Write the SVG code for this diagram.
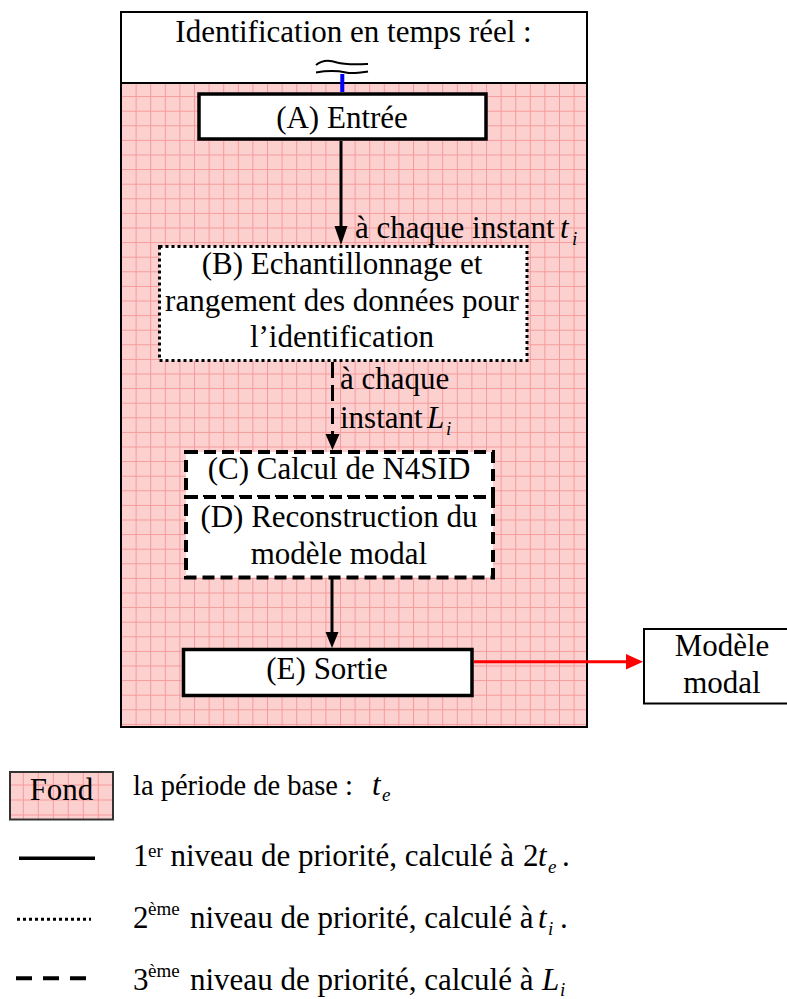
<svg xmlns="http://www.w3.org/2000/svg" width="787" height="999" viewBox="0 0 787 999">
<style>
  text { font-family: "Liberation Serif", "Times New Roman", serif; font-size: 31px; fill: #000; }
  .mid { text-anchor: middle; }
  .it { font-style: italic; }
  .sub { font-style: italic; font-size: 19px; }
  .sup { font-size: 19px; }
  .box { fill: #fff; stroke: #000; }
  .solid { stroke-width: 3.5; }
  .dotted { stroke-width: 3; stroke-dasharray: 3 3; }
  .dashed { stroke-width: 4; stroke-dasharray: 12 6; }
  .conn { fill: none; stroke: #000; stroke-width: 3; }
</style>
<defs>
  <pattern id="grid" patternUnits="userSpaceOnUse" x="121" y="81.5" width="14.6" height="14.6">
    <rect width="14.6" height="14.6" fill="#fdd0d0"/>
    <path d="M0,0.5 H14.6 M0.5,0 V14.6" stroke="#f59a9a" stroke-width="1"/>
  </pattern>
  <pattern id="grid2" patternUnits="userSpaceOnUse" x="7.8" y="769.5" width="15" height="15">
    <rect width="15" height="15" fill="#fdd0d0"/>
    <path d="M0,0.5 H15 M0.5,0 V15" stroke="#f59a9a" stroke-width="1"/>
  </pattern>
</defs>

<rect width="787" height="999" fill="#fff"/>

<g id="frame">
  <rect x="121" y="83" width="466" height="644" fill="url(#grid)"/>
  <rect x="121" y="12" width="466" height="71" fill="#fff"/>
  <rect x="121" y="12" width="466" height="715" fill="none" stroke="#000" stroke-width="2"/>
  <line x1="121" y1="83" x2="587" y2="83" stroke="#000" stroke-width="2"/>
  <text class="mid" x="353.5" y="42">Identification en temps réel :</text>
  <path d="M316,65 C322,60 330,60 337,62.5 C345,65 355,64.5 368,64" fill="none" stroke="#000" stroke-width="2"/>
  <path d="M316,72.5 C330,70 339,71 346,72.5 C352,74 358,73 368,71.5" fill="none" stroke="#000" stroke-width="2"/>
  <line x1="342.3" y1="74" x2="342.3" y2="92" stroke="#0000ff" stroke-width="4"/>
</g>

<g id="connectors">
  <line class="conn" x1="341" y1="141" x2="341" y2="228"/>
  <polygon points="334.5,226 347.5,226 341,245" fill="#000"/>
  <line class="conn" x1="332.5" y1="362" x2="332.5" y2="436" stroke-width="4" stroke-dasharray="16 7"/>
  <polygon points="325.5,434 339.5,434 332.5,450" fill="#000"/>
  <line class="conn" x1="332" y1="579" x2="332" y2="634"/>
  <polygon points="325.5,632 338.5,632 332,648" fill="#000"/>
  <line x1="474" y1="661.7" x2="628" y2="661.7" stroke="#ff0000" stroke-width="3"/>
  <polygon points="626,654 626,669.4 643,661.7" fill="#ff0000"/>
  <text x="355" y="238">à chaque instant</text>
  <text class="it" x="560" y="238">t</text>
  <text class="sub" x="572" y="245">i</text>
  <text x="340" y="389">à chaque</text>
  <text x="340" y="428">instant</text>
  <text class="it" x="427" y="428">L</text>
  <text class="sub" x="446" y="435">i</text>
</g>

<g id="nodeA">
  <rect class="box solid" x="199" y="94" width="287" height="45"/>
  <text class="mid" x="342" y="128">(A) Entrée</text>
</g>

<g id="nodeB">
  <rect class="box dotted" x="159.5" y="246.5" width="367.5" height="114"/>
  <text class="mid" x="342" y="274">(B) Echantillonnage et</text>
  <text class="mid" x="342" y="310.5">rangement des données pour</text>
  <text class="mid" x="342" y="347">l’identification</text>
</g>

<g id="nodeC">
  <rect class="box dashed" x="186" y="452" width="307" height="45"/>
  <text class="mid" x="339" y="479">(C) Calcul de N4SID</text>
</g>

<g id="nodeD">
  <rect class="box dashed" x="186" y="497" width="307" height="80.5" fill="none"/>
  <text class="mid" x="339" y="527">(D) Reconstruction du</text>
  <text class="mid" x="339" y="564">modèle modal</text>
</g>

<g id="nodeE">
  <rect class="box solid" x="183.5" y="649.5" width="288.5" height="46"/>
  <text class="mid" x="327" y="679">(E) Sortie</text>
</g>

<g id="model">
  <rect x="644" y="629" width="160" height="74.5" fill="#fff" stroke="#000" stroke-width="2"/>
  <text class="mid" x="722" y="656">Modèle</text>
  <text class="mid" x="722" y="693">modal</text>
</g>

<g id="legend">
  <rect x="10" y="772" width="103" height="47.5" fill="url(#grid2)" stroke="#333" stroke-width="2"/>
  <text class="mid" x="61.5" y="800">Fond</text>
  <text x="133" y="795" style="font-size:28.5px">la période de base :</text>
  <text class="it" x="372" y="795">t</text>
  <text class="sub" x="382" y="801">e</text>

  <line x1="19" y1="858.3" x2="95" y2="858.3" stroke="#000" stroke-width="3.4"/>
  <text x="133" y="866">1</text>
  <text class="sup" x="148" y="857">er</text>
  <text x="170.5" y="866">niveau de priorité, calculé à</text>
  <text x="523" y="866">2</text>
  <text class="it" x="538" y="866">t</text>
  <text class="sub" x="548" y="873">e</text>
  <text x="562" y="866">.</text>

  <line x1="17" y1="919.3" x2="91" y2="919.3" stroke="#000" stroke-width="3" stroke-dasharray="3 3"/>
  <text x="133" y="928">2</text>
  <text class="sup" x="148" y="915">ème</text>
  <text x="190" y="928">niveau de priorité, calculé à</text>
  <text class="it" x="538" y="928">t</text>
  <text class="sub" x="548" y="935">i</text>
  <text x="560" y="928">.</text>

  <line x1="16" y1="978.3" x2="86" y2="978.3" stroke="#000" stroke-width="4" stroke-dasharray="16 11"/>
  <text x="133" y="990">3</text>
  <text class="sup" x="148" y="977">ème</text>
  <text x="190" y="990">niveau de priorité, calculé à</text>
  <text class="it" x="542" y="990">L</text>
  <text class="sub" x="560" y="996">i</text>
</g>
</svg>
